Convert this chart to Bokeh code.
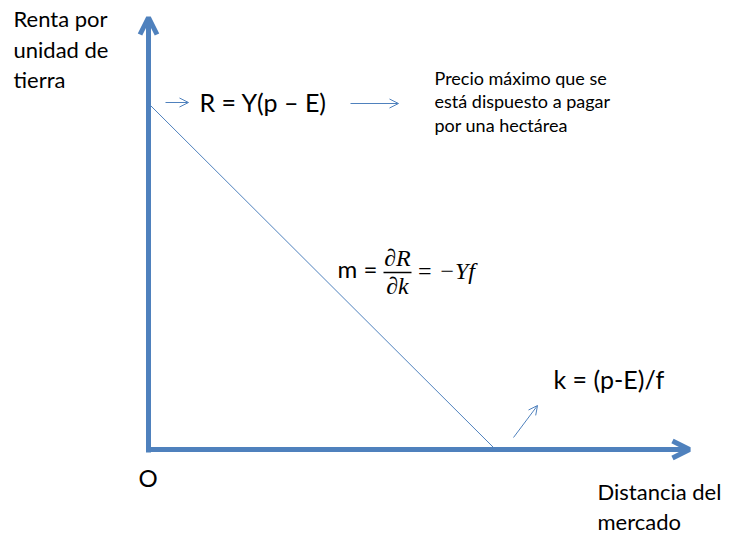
from bokeh.plotting import figure
from bokeh.models import Range1d, Arrow, OpenHead
from bokeh.core.properties import value
from bokeh.embed import file_html
from bokeh.resources import INLINE

# ---- diagram data (units measured from the origin O) ----
axis_x_end = 541          # tip of the distance axis
axis_y_end = 432          # tip of the rent axis
rent_intercept = 346      # R = Y(p - E)
k_intercept = 347         # k = (p - E)/f

bid_x = [0, k_intercept]
bid_y = [rent_intercept, 0]

y_label = ["Renta por", "unidad de", "tierra"]
x_label = ["Distancia del", "mercado"]
origin_label = "O"
r_label = "R = Y(p \u2013 E)"
note_label = ["Precio m\u00e1ximo que se", "est\u00e1 dispuesto a pagar", "por una hect\u00e1rea"]
k_label = "k = (p-E)/f"
slope_left = "m ="
slope_num = "\u2202R"
slope_den = "\u2202k"
slope_right = "= \u2212Yf"

BLUE = "#4F81BD"
FONT = value("Lato")
MATH = value("Liberation Serif")

p = figure(width=732, height=537, output_backend="svg", toolbar_location=None,
           x_range=Range1d(-148, 584), y_range=Range1d(-88, 449),
           min_border=0, outline_line_color=None)
p.xaxis.visible = False
p.yaxis.visible = False
p.grid.visible = False

# thick axes with open arrow heads
p.add_layout(Arrow(end=OpenHead(size=17, line_width=5, line_color=BLUE),
                   x_start=0, y_start=-3, x_end=0, y_end=axis_y_end,
                   line_width=5, line_color=BLUE))
p.add_layout(Arrow(end=OpenHead(size=17, line_width=5, line_color=BLUE),
                   x_start=-2, y_start=0, x_end=axis_x_end, y_end=0,
                   line_width=5, line_color=BLUE))

# bid-rent line
p.line(bid_x, bid_y, line_color=BLUE, line_width=1)

# small pointer arrows
def small_arrow(x0, y0, x1, y1):
    p.add_layout(Arrow(end=OpenHead(size=9, line_width=1, line_color=BLUE),
                       x_start=x0, y_start=y0, x_end=x1, y_end=y1,
                       line_width=1, line_color=BLUE))

small_arrow(17, rent_intercept + 1, 40, rent_intercept + 1)
small_arrow(202, rent_intercept, 250, rent_intercept)
small_arrow(k_intercept + 18, 12, k_intercept + 42, 44)

def txt(x, y, s, size, font=FONT, style="normal", align="left", baseline="alphabetic"):
    p.text(x=[x], y=[y], text=[s], text_font=font, text_font_size=f"{size}px",
           text_font_style=style, text_color="#000000", text_align=align,
           text_baseline=baseline)

# axis labels
for i, s in enumerate(y_label):
    txt(-135, 431 - 30.5 * i, s, 22)
for i, s in enumerate(x_label):
    txt(449, -42 - 30 * i, s, 22)
txt(-10, -28, origin_label, 24)

# formulas and note
txt(51, 348, r_label, 25)
for i, s in enumerate(note_label):
    txt(286, 372 - 23.5 * i, s, 18)
txt(405, 71, k_label, 25)

txt(189, 181, slope_left, 24)
txt(249, 192, slope_num, 24, font=MATH, style="italic", align="center")
txt(249, 164, slope_den, 24, font=MATH, style="italic", align="center")
p.line([235, 263], [177, 177], line_color="#000000", line_width=1.5)
txt(268, 179, slope_right, 24, font=MATH, style="italic")

open("out.html", "w").write(file_html(p, INLINE))
